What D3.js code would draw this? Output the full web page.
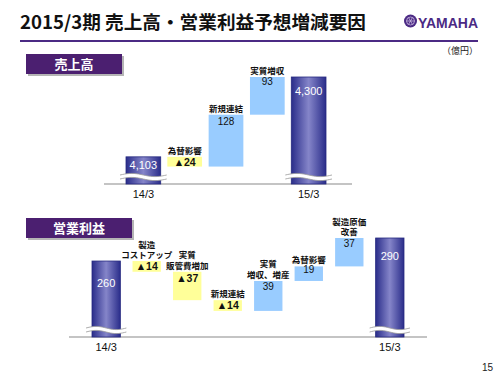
<!DOCTYPE html>
<html><head><meta charset="utf-8">
<script src="https://cdn.jsdelivr.net/npm/d3@7"></script>
<style>body{margin:0;background:#fff}svg{display:block}</style>
</head><body>
<script>
// ---- data ----
const salesCats = ["14/3", "為替影響", "新規連結", "実質増収", "15/3"];
const salesValues = [4103, -24, 128, 93, 4300];
const salesLabels = ["4,103", "▲24", "128", "93", "4,300"];
const salesNames = [[], ["為替影響"], ["新規連結"], ["実質増収"], []];

const profitCats = ["14/3", "製造コストアップ", "実質販管費増加", "新規連結", "実質増収、増産", "為替影響", "製造原価改善", "15/3"];
const profitValues = [260, -14, -37, -14, 39, 19, 37, 290];
const profitLabels = ["260", "▲14", "▲37", "▲14", "39", "19", "37", "290"];
const profitNames = [[], ["製造", "コストアップ"], ["実質", "販管費増加"], ["新規連結"], ["実質", "増収、増産"], ["為替影響"], ["製造原価", "改善"], []];

const W = 500, H = 375;
const JP = "'Noto Sans CJK JP','Noto Sans',sans-serif";
const AR = "'Liberation Sans',Arial,sans-serif";
const svg = d3.select("body").append("svg").attr("width", W).attr("height", H);
const defs = svg.append("defs");
const grad = defs.append("linearGradient").attr("id", "tot").attr("x1", "0").attr("x2", "1").attr("y1", "0").attr("y2", "0");
grad.append("stop").attr("offset", "0").attr("stop-color", "#2a2d8a");
grad.append("stop").attr("offset", "0.5").attr("stop-color", "#8585c9");
grad.append("stop").attr("offset", "1").attr("stop-color", "#2a2d8a");

// ---- title ----
svg.append("text").attr("x", 20).attr("y", 29).attr("font-family", JP).attr("font-weight", 700)
  .attr("font-size", 18).attr("fill", "#111").attr("textLength", 346).attr("lengthAdjust", "spacingAndGlyphs")
  .text("2015/3期 売上高・営業利益予想増減要因");
svg.append("rect").attr("x", 20).attr("y", 40).attr("width", 458).attr("height", 2).attr("fill", "#4b2a84");
// logo
const lg = svg.append("g").attr("transform", "translate(410.5,21)");
lg.append("circle").attr("r", 6.5).attr("fill", "#4b2a84");
lg.append("circle").attr("r", 4).attr("fill", "none").attr("stroke", "#c9b8e0").attr("stroke-width", 0.8);
for (let i = 0; i < 3; i++) {
  const a = i * Math.PI / 3;
  lg.append("line").attr("x1", -4 * Math.cos(a)).attr("y1", -4 * Math.sin(a)).attr("x2", 4 * Math.cos(a)).attr("y2", 4 * Math.sin(a))
    .attr("stroke", "#c9b8e0").attr("stroke-width", 0.8);
}
svg.append("text").attr("x", 418).attr("y", 27.5).attr("font-family", AR).attr("font-weight", 700)
  .attr("font-size", 15).attr("fill", "#4b2a84").attr("textLength", 60).attr("lengthAdjust", "spacingAndGlyphs").text("YAMAHA");
svg.append("text").attr("x", 478).attr("y", 54).attr("text-anchor", "end").attr("font-family", JP)
  .attr("font-size", 9).attr("fill", "#222").text("（億円）");
svg.append("text").attr("x", 493).attr("y", 371).attr("text-anchor", "end").attr("font-family", AR)
  .attr("font-size", 10).attr("fill", "#222").text("15");

function sectionLabel(x, y, w, h, txt) {
  svg.append("rect").attr("x", x + 2).attr("y", y + 2).attr("width", w).attr("height", h).attr("fill", "#b5b5b5");
  svg.append("rect").attr("x", x).attr("y", y).attr("width", w).attr("height", h).attr("fill", "#4b1f70");
  svg.append("text").attr("x", x + w / 2).attr("y", y + h / 2 + 5).attr("text-anchor", "middle").attr("font-family", JP)
    .attr("font-weight", 700).attr("font-size", 13).attr("fill", "#fff").text(txt);
}
sectionLabel(26, 54, 96, 20, "売上高");
sectionLabel(26, 218, 106, 20, "営業利益");

function breakMark(cx, w, yb) {
  const x0 = cx - w / 2 - 6, x1 = cx + w / 2 + 6;
  const n = 20, amp = 1.6;
  const top = [], bot = [];
  for (let i = 0; i <= n; i++) {
    const x = x0 + (x1 - x0) * i / n;
    const dy = -amp * Math.sin(2 * Math.PI * i / n);
    top.push([x, yb - 2 + dy]);
    bot.push([x, yb + 2 + dy]);
  }
  const line = d3.line();
  svg.append("path").attr("d", line(top.concat(bot.slice().reverse())) + "Z").attr("fill", "#fff");
  svg.append("path").attr("d", line(top)).attr("fill", "none").attr("stroke", "#999").attr("stroke-width", 0.8);
  svg.append("path").attr("d", line(bot)).attr("fill", "none").attr("stroke", "#999").attr("stroke-width", 0.8);
}

function waterfall(cfg) {
  const { cats, values, labels, names, x, y, base, axis, labelOffsets } = cfg;
  let run = 0;
  const items = values.map((v, i) => {
    const last = i === values.length - 1;
    if (i === 0 || last) { run = v; return { i, type: "total", y0: base, y1: v }; }
    const a = run; run += v;
    return { i, type: v < 0 ? "neg" : "pos", y0: Math.min(a, run), y1: Math.max(a, run) };
  });
  svg.append("line").attr("x1", axis[0]).attr("x2", axis[1]).attr("y1", y(base)).attr("y2", y(base))
    .attr("stroke", "#8a8a8a").attr("stroke-width", 1.2);
  items.forEach(d => {
    const xl = x(cats[d.i]), bw = x.bandwidth(), cx = xl + bw / 2;
    const yt = y(d.y1), yb = y(d.y0);
    if (d.type === "total") {
      svg.append("rect").attr("x", xl).attr("y", yt).attr("width", bw).attr("height", yb - yt)
        .attr("fill", "url(#tot)").attr("stroke", "#262a80").attr("stroke-width", 0.8);
      breakMark(cx, bw, y(base) - 7);
      svg.append("text").attr("x", cx).attr("y", yt + labelOffsets[d.i]).attr("text-anchor", "middle")
        .attr("font-family", AR).attr("font-size", 11).attr("fill", "#fff").text(labels[d.i]);
      svg.append("text").attr("x", cx).attr("y", y(base) + 14).attr("text-anchor", "middle")
        .attr("font-family", AR).attr("font-size", 11).attr("fill", "#111").text(cats[d.i]);
    } else {
      svg.append("rect").attr("x", xl).attr("y", yt).attr("width", bw).attr("height", yb - yt)
        .attr("fill", d.type === "neg" ? "#ffff99" : "#99ccff");
      const neg = d.type === "neg";
      svg.append("text").attr("x", cx).attr("y", yt + labelOffsets[d.i]).attr("text-anchor", "middle")
        .attr("font-family", AR).attr("font-weight", neg ? 700 : 400).attr("font-size", neg ? 10.5 : 10)
        .attr("fill", "#111").text(labels[d.i]);
      const nm = names[d.i];
      nm.forEach((t, k) => {
        svg.append("text").attr("x", cx).attr("y", yt - 3 - (nm.length - 1 - k) * 10.5).attr("text-anchor", "middle")
          .attr("font-family", JP).attr("font-weight", 700).attr("font-size", 8.5).attr("fill", "#111").text(t);
      });
    }
  });
}

// top chart
const xTop = d3.scaleBand().domain(salesCats).range([126, 326]).paddingInner(0.16);
const yTop = d3.scaleLinear().domain([4036, 4300]).range([184, 77]);
waterfall({ cats: salesCats, values: salesValues, labels: salesLabels, names: salesNames, x: xTop, y: yTop,
  base: 4036, axis: [104, 352], labelOffsets: [12, 9, 10, 8, 18] });

// bottom chart
const xBot = d3.scaleBand().domain(profitCats).range([92, 404]).paddingInner(0.3);
const yBot = d3.scaleLinear().domain([161, 290]).range([337, 238]);
waterfall({ cats: profitCats, values: profitValues, labels: profitLabels, names: profitNames, x: xBot, y: yBot,
  base: 161, axis: [69, 427], labelOffsets: [26, 9, 10, 9, 9, 7, 9, 22] });
</script>
</body></html>
